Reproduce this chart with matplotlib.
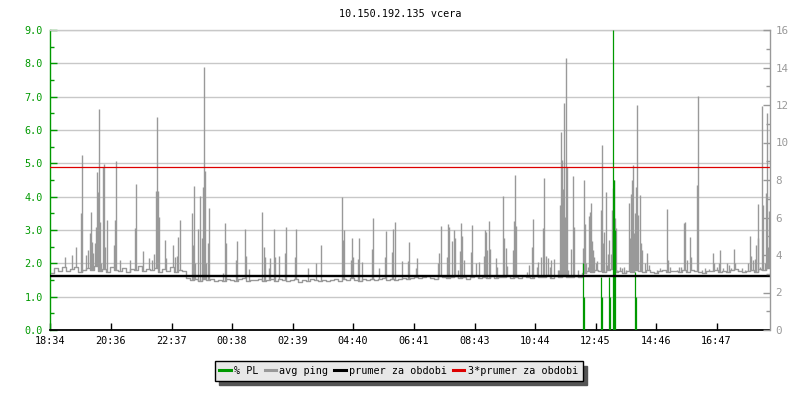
import matplotlib

matplotlib.use("Agg")

import matplotlib.pyplot as plt  # noqa: E402
from matplotlib.lines import Line2D  # noqa: E402
from matplotlib.ticker import MultipleLocator  # noqa: E402

# time axis: minutes from 18:34, one day
START = "18:34"
DAY_MINUTES = 1440
tick_labels = ["18:34", "20:36", "22:37", "00:38", "02:39", "04:40",
               "06:41", "08:43", "10:44", "12:45", "14:46", "16:47"]

# quiet baseline of avg ping, one value per 8 minutes
BASE_STEP = 8
ping_base = [
    1.72, 1.85, 1.78, 1.90, 1.76, 1.82, 1.88, 1.74, 1.80, 1.86, 1.79, 1.92,
    1.77, 1.83, 1.75, 1.89, 1.81, 1.78, 1.87, 1.73, 1.84, 1.80, 1.91, 1.76,
    1.82, 1.79, 1.86, 1.74, 1.83, 1.78, 1.88, 1.75, 1.81, 1.77,
    1.55, 1.50, 1.53, 1.47, 1.52, 1.49, 1.54, 1.48, 1.51, 1.46, 1.53, 1.50,
    1.48, 1.52, 1.55, 1.47, 1.51, 1.49, 1.53, 1.46, 1.50, 1.52, 1.48, 1.54,
    1.49, 1.47, 1.51, 1.53, 1.45, 1.50, 1.48, 1.52, 1.49, 1.46, 1.51, 1.47,
    1.50, 1.53, 1.48, 1.52, 1.49, 1.55, 1.51, 1.47, 1.53, 1.50, 1.54, 1.49,
    1.52, 1.56, 1.51, 1.54, 1.50, 1.53, 1.57, 1.52,
    1.56, 1.60, 1.55, 1.59, 1.62, 1.57, 1.54, 1.61, 1.58, 1.55, 1.60, 1.63,
    1.57, 1.59, 1.54, 1.58, 1.61, 1.56, 1.60, 1.57, 1.62, 1.55, 1.59, 1.58,
    1.63, 1.56, 1.60, 1.57, 1.61, 1.59, 1.55, 1.62, 1.58, 1.60, 1.64, 1.57,
    1.61, 1.59, 1.63, 1.60, 1.58, 1.62, 1.60,
    1.72, 1.78, 1.74, 1.80, 1.76, 1.73, 1.79, 1.82, 1.75, 1.77, 1.71, 1.78,
    1.74, 1.81, 1.76, 1.73, 1.79, 1.75, 1.72, 1.77, 1.80, 1.74, 1.78, 1.76,
    1.73, 1.79, 1.75, 1.81, 1.77, 1.74, 1.72, 1.78, 1.76, 1.80, 1.73, 1.77,
    1.75, 1.79, 1.82, 1.76, 1.74, 1.78, 1.80, 1.75, 1.83, 1.79, 1.85,
]

# avg ping spikes: minute from start, value
spike_minutes = [
    29, 43, 52, 61, 63, 71, 75, 79, 81, 83, 85, 89, 91, 93, 95, 97, 99, 101,
    105, 107, 109, 113, 127, 129, 131, 139, 159, 169, 171, 186, 198, 203,
    208, 211, 213, 215, 218, 229, 231, 245, 249, 253, 256, 259, 283, 285,
    287, 289, 296, 299, 303, 305, 307, 309, 311, 315, 317, 345, 350, 352,
    371, 373, 389, 391, 398, 424, 427, 429, 437, 439, 447, 449, 457, 469,
    471, 489, 491, 515, 532, 541, 584, 586, 588, 601, 603, 605, 615, 617,
    623, 644, 645, 658, 669, 671, 683, 685, 689, 703, 715, 717,
    731, 733, 775, 778, 781, 793, 795, 797, 804, 807, 809, 816, 819, 821,
    823, 827, 841, 843, 851, 857, 867, 869, 872, 874, 877, 879, 891, 893,
    905, 907, 911, 914, 926, 927, 929, 931, 954, 957, 963, 965, 974, 976,
    981, 985, 987, 991, 995, 999, 1001, 1008, 1015, 1017, 1019, 1021, 1023,
    1025, 1027, 1029, 1031, 1033, 1035, 1041, 1046, 1048, 1056, 1065, 1067,
    1069, 1071, 1075, 1077, 1079, 1081, 1083, 1085, 1087, 1091, 1093, 1096,
    1101, 1103, 1105, 1108, 1111, 1113, 1116, 1118, 1121, 1123, 1125, 1127,
    1129, 1131, 1133, 1139, 1143, 1148, 1151, 1157, 1159, 1161, 1163, 1165,
    1167, 1169, 1172, 1174, 1176, 1179, 1181, 1183, 1189, 1193, 1197, 1204,
    1213, 1219, 1224, 1233, 1235, 1240, 1253, 1258, 1262, 1268, 1270, 1273,
    1280, 1282, 1288, 1293, 1295, 1303, 1309, 1317, 1326, 1328, 1333, 1337,
    1339, 1346, 1353, 1357, 1361, 1367, 1370, 1376, 1383, 1389, 1396, 1399,
    1401, 1406, 1409, 1411, 1415, 1416, 1419, 1421, 1424, 1426, 1429, 1431,
    1433, 1435, 1438,
]
spike_values = [
    2.20, 2.25, 2.50, 3.50, 5.25, 2.25, 2.40, 2.90, 3.55, 2.65, 2.30, 2.60,
    3.10, 4.75, 4.15, 6.63, 3.25, 2.00, 4.90, 4.98, 2.50, 3.30, 2.55, 3.30,
    5.07, 2.10, 2.10, 3.06, 4.38, 2.37, 2.15, 2.10, 2.28, 4.17, 6.39, 4.18,
    3.40, 2.70, 2.15, 2.55, 2.20, 2.22, 2.78, 3.30, 3.52, 2.55, 4.33, 2.00,
    3.02, 4.03, 2.75, 4.30, 7.90, 4.77, 2.00, 2.60, 3.66, 1.70, 3.22, 2.60,
    2.10, 2.67, 3.03, 2.22, 1.82, 3.54, 2.48, 2.20, 1.85, 2.15, 3.03, 2.20,
    2.22, 2.30, 3.08, 2.20, 3.03, 1.85, 2.00, 2.55, 4.00, 2.70, 3.00, 2.10,
    2.76, 2.20, 2.12, 2.76, 2.05, 2.42, 3.35, 1.85, 2.20, 2.98, 2.35, 3.03,
    3.23, 2.07, 2.07, 2.63,
    1.85, 2.15, 2.00, 2.30, 3.12, 2.20, 3.18, 3.08, 2.67, 3.00, 2.75, 1.80,
    2.38, 3.22, 2.82, 2.10, 2.35, 3.15, 2.00, 2.05, 2.23, 3.00, 2.93, 2.40,
    3.27, 2.43, 2.17, 1.90, 4.02, 2.75, 2.45, 1.93, 2.40, 3.28, 4.66, 3.13,
    1.75, 1.95, 2.48, 3.33, 1.88, 2.05, 2.20, 3.06, 4.57, 2.22, 2.15, 1.90,
    2.10, 2.14, 1.80, 1.80, 3.75, 5.95, 5.10, 4.23, 6.80, 3.40, 8.15, 4.88,
    1.80, 2.43, 4.62, 3.10, 1.80, 2.45, 4.50, 3.18, 2.00, 1.90, 3.43, 3.55,
    3.80, 2.68, 2.40, 2.20, 2.00, 2.07, 1.80, 3.60, 5.55, 2.60, 2.95, 4.14,
    1.95, 2.28, 2.70, 2.28, 3.60, 4.25, 4.50, 3.35, 3.05, 1.80, 1.90, 1.85,
    1.90, 1.80, 3.82, 2.75, 4.07, 4.50, 4.95, 2.90, 3.50, 4.30, 6.75, 3.45,
    4.05, 2.60, 2.40, 2.00, 2.30, 1.95, 1.75, 1.80, 1.85, 1.78, 3.63, 2.10,
    1.88, 1.80, 1.90, 1.88, 3.20, 3.25, 2.10, 2.80, 2.20, 1.80, 4.35, 7.03,
    1.80, 1.85, 1.82, 2.30, 2.00, 1.90, 2.00, 2.40, 1.85, 2.00, 1.95, 1.85,
    2.43, 2.00, 1.80, 1.85, 1.80, 2.00, 2.83, 2.22, 2.10, 2.12, 2.55, 2.75,
    3.77, 1.90, 1.80, 6.72, 3.75, 2.00, 4.12, 6.50, 2.50, 3.57,
]

# packet loss samples
pl_minutes = [1066, 1068, 1102, 1104, 1118, 1120, 1126, 1128, 1130, 1170, 1172]
pl_values = [2.0, 1.0, 1.6, 1.0, 1.6, 1.0, 9.0, 4.5, 3.0, 1.74, 1.0]

period_mean = 1.627
period_mean_x3 = 4.88

GREEN = "#009900"
GRAY = "#999999"
RED = "#dd0000"
GRID = "#c8c8c8"
FONT = "DejaVu Sans Mono"
FS = 7.3


def to_minutes(label: str) -> int:
    h, m = label.split(":")
    h0, m0 = START.split(":")
    return (int(h) * 60 + int(m) - int(h0) * 60 - int(m0)) % DAY_MINUTES


plt.rcParams["font.family"] = FONT
plt.rcParams["font.size"] = FS

fig = plt.figure(figsize=(8, 4), dpi=100)
ax = fig.add_axes([0.0625, 0.175, 0.9, 0.75])

# baseline as a step line
base_x = [i * BASE_STEP for i in range(len(ping_base))] + [DAY_MINUTES]
base_y = ping_base + [ping_base[-1]]
ax.step(base_x, base_y, where="post", color=GRAY, linewidth=1.0, zorder=2)

# spikes rise from the baseline
bottoms = [ping_base[min(m // BASE_STEP, len(ping_base) - 1)] for m in spike_minutes]
ax.vlines(spike_minutes, bottoms, spike_values, color=GRAY, linewidth=1.0, zorder=2)

ax.vlines(pl_minutes, 0, pl_values, color=GREEN, linewidth=0.9, zorder=3)
ax.axhline(period_mean, color="black", linewidth=1.7, zorder=4)
ax.axhline(period_mean_x3, color=RED, linewidth=0.9, zorder=4)

ax.set_xlim(0, DAY_MINUTES)
ax.set_ylim(0, 9)
ax.set_xticks([to_minutes(t) for t in tick_labels])
ax.set_xticklabels(tick_labels)
ax.yaxis.set_major_locator(MultipleLocator(1.0))
ax.yaxis.set_minor_locator(MultipleLocator(0.5))
ax.yaxis.set_major_formatter(plt.FormatStrFormatter("%.1f"))
ax.grid(axis="y", color=GRID, linewidth=1.0, zorder=0)
ax.set_axisbelow(True)

ax.tick_params(axis="y", which="both", direction="in", colors=GREEN,
               labelcolor=GREEN, pad=5)
ax.tick_params(axis="y", which="major", length=5, width=1)
ax.tick_params(axis="y", which="minor", length=3, width=1)
ax.tick_params(axis="x", direction="in", length=5, width=1, pad=4,
               colors="black")

ax.spines["left"].set_color(GREEN)
ax.spines["left"].set_linewidth(1.0)
ax.spines["bottom"].set_color("black")
ax.spines["bottom"].set_linewidth(1.3)
ax.spines["top"].set_color(GRID)
ax.spines["top"].set_linewidth(1.0)
ax.spines["right"].set_visible(False)

ax2 = ax.twinx()
ax2.set_ylim(0, 16)
ax2.yaxis.set_major_locator(MultipleLocator(2))
ax2.yaxis.set_minor_locator(MultipleLocator(1))
ax2.tick_params(axis="y", which="both", direction="in", colors=GRAY,
                labelcolor=GRAY, pad=4, labelsize=7.8)
ax2.tick_params(axis="y", which="major", length=5, width=1)
ax2.tick_params(axis="y", which="minor", length=3, width=1)
for side in ["left", "top", "bottom"]:
    ax2.spines[side].set_visible(False)
ax2.spines["right"].set_color(GRAY)
ax2.spines["right"].set_linewidth(1.0)

fig.text(0.5, 0.965, "10.150.192.135 vcera", ha="center", va="center",
         fontsize=FS, color="black")

handles = [
    Line2D([], [], color=GREEN, linewidth=2.2),
    Line2D([], [], color=GRAY, linewidth=2.2),
    Line2D([], [], color="black", linewidth=2.2),
    Line2D([], [], color=RED, linewidth=2.2),
]
labels = ["% PL", "avg ping", "prumer za obdobi", "3*prumer za obdobi"]
leg = fig.legend(
    handles, labels, loc="center", bbox_to_anchor=(0.4985, 0.0725), ncol=4,
    frameon=True, fancybox=False, framealpha=1.0, edgecolor="black",
    facecolor="#e8e8e8", handlelength=1.1, handletextpad=0.35,
    columnspacing=0.6, borderpad=0.45, fontsize=FS,
    shadow={"color": "#555555", "alpha": 1.0, "ox": 3, "oy": -3},
)
leg.get_frame().set_linewidth(1.0)

fig.savefig("out.png", dpi=100)
